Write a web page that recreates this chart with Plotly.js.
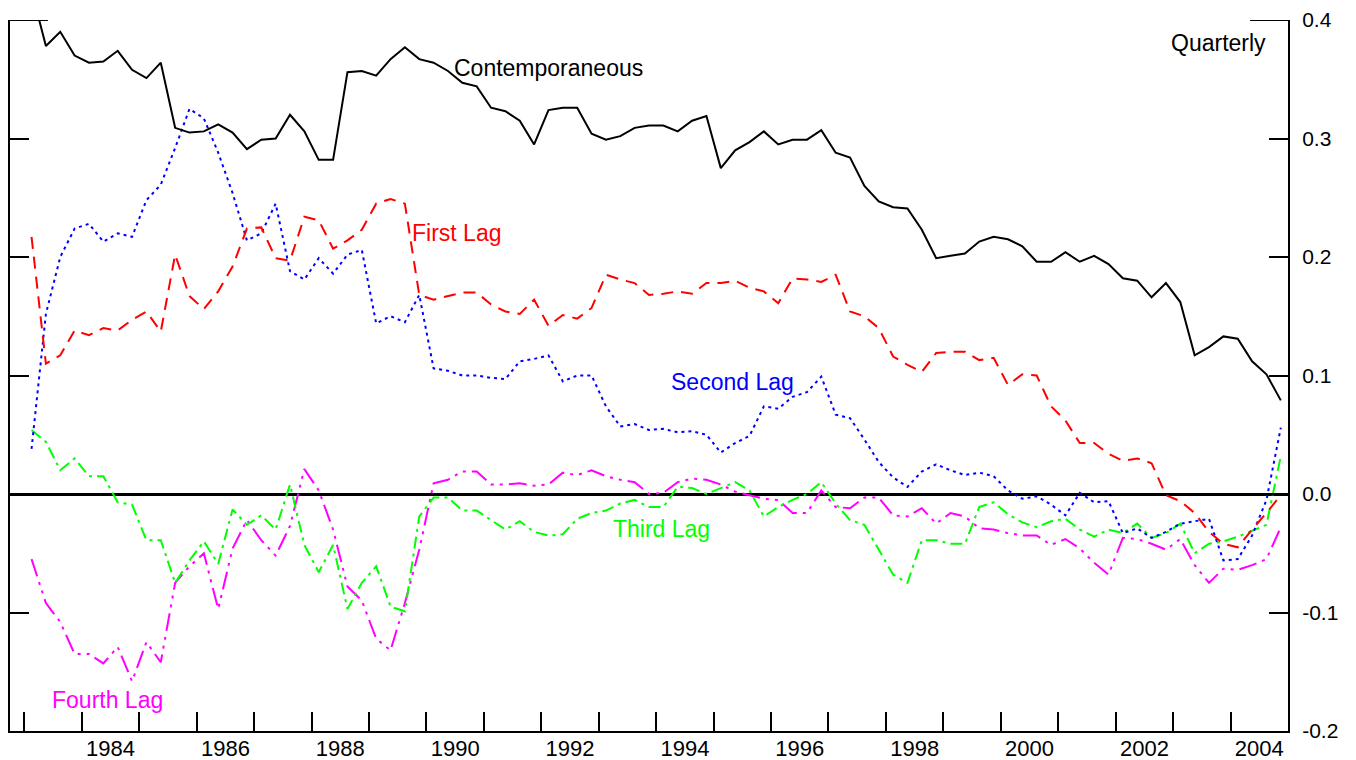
<!DOCTYPE html>
<html>
<head>
<meta charset="utf-8">
<script src="https://cdn.plot.ly/plotly-3.0.1.min.js"></script>
<style>
  html, body { margin: 0; padding: 0; background: #ffffff; }
  #chart { width: 1356px; height: 760px; }
</style>
</head>
<body>
<div id="chart"></div>
<script>
// ---- data (quarterly, 1983Q1 .. 2004Q4) ----
const firstYear = 1983;
const lastYear = 2004;

const contemporaneous = [
  0.425, 0.378, 0.390, 0.370, 0.364, 0.365, 0.374, 0.358, 0.351, 0.364,
  0.309, 0.305, 0.306, 0.312, 0.305, 0.291, 0.299, 0.300, 0.320, 0.306,
  0.282, 0.282, 0.356, 0.357, 0.353, 0.367, 0.377, 0.367, 0.364, 0.357,
  0.347, 0.344, 0.326, 0.323, 0.315, 0.295, 0.324, 0.326, 0.326, 0.304,
  0.299, 0.302, 0.309, 0.311, 0.311, 0.306, 0.315, 0.319, 0.275, 0.290,
  0.297, 0.306, 0.295, 0.299, 0.299, 0.307, 0.288, 0.284, 0.260, 0.247,
  0.242, 0.241, 0.223, 0.199, 0.201, 0.203, 0.213, 0.217, 0.215, 0.209,
  0.196, 0.196, 0.204, 0.196, 0.201, 0.194, 0.182, 0.180, 0.166, 0.178,
  0.162, 0.117, 0.124, 0.133, 0.131, 0.112, 0.101, 0.079
];

const firstLag = [
  0.217, 0.110, 0.117, 0.138, 0.134, 0.140, 0.138, 0.147, 0.154, 0.137,
  0.202, 0.167, 0.156, 0.171, 0.192, 0.224, 0.225, 0.199, 0.197, 0.234,
  0.231, 0.207, 0.214, 0.223, 0.245, 0.249, 0.245, 0.168, 0.164, 0.167,
  0.170, 0.170, 0.160, 0.154, 0.152, 0.164, 0.142, 0.151, 0.148, 0.157,
  0.185, 0.181, 0.178, 0.168, 0.169, 0.171, 0.169, 0.178, 0.178, 0.180,
  0.174, 0.171, 0.161, 0.182, 0.181, 0.179, 0.185, 0.154, 0.150, 0.140,
  0.116, 0.109, 0.103, 0.119, 0.120, 0.120, 0.113, 0.115, 0.092, 0.101,
  0.100, 0.074, 0.062, 0.043, 0.043, 0.034, 0.028, 0.030, 0.026, -0.001,
  -0.006, -0.016, -0.032, -0.042, -0.045, -0.030, -0.016, -0.001
];

const secondLag = [
  0.038, 0.152, 0.200, 0.224, 0.228, 0.213, 0.220, 0.217, 0.248, 0.261,
  0.292, 0.325, 0.317, 0.288, 0.254, 0.214, 0.220, 0.245, 0.188, 0.181,
  0.199, 0.186, 0.202, 0.206, 0.144, 0.150, 0.145, 0.168, 0.106, 0.104,
  0.100, 0.100, 0.098, 0.097, 0.112, 0.114, 0.117, 0.095, 0.100, 0.100,
  0.074, 0.057, 0.059, 0.054, 0.055, 0.052, 0.053, 0.050, 0.035, 0.043,
  0.049, 0.074, 0.072, 0.082, 0.086, 0.099, 0.067, 0.064, 0.046, 0.027,
  0.014, 0.006, 0.019, 0.025, 0.020, 0.016, 0.018, 0.015, 0.003, -0.004,
  -0.002, -0.009, -0.018, 0.001, -0.007, -0.006, -0.033, -0.029, -0.037, -0.032,
  -0.025, -0.023, -0.021, -0.056, -0.055, -0.035, -0.005, 0.056
];

const thirdLag = [
  0.054, 0.044, 0.020, 0.030, 0.015, 0.015, -0.007, -0.009, -0.039, -0.039,
  -0.075, -0.056, -0.040, -0.059, -0.013, -0.026, -0.018, -0.030, 0.008, -0.043,
  -0.066, -0.043, -0.097, -0.075, -0.061, -0.095, -0.099, -0.019, -0.003, -0.003,
  -0.014, -0.014, -0.022, -0.030, -0.023, -0.032, -0.035, -0.034, -0.021, -0.016,
  -0.014, -0.008, -0.005, -0.011, -0.011, 0.006, 0.005, 0.000, 0.005, 0.010,
  0.003, -0.019, -0.011, -0.005, 0.000, 0.010, -0.008, -0.022, -0.026, -0.047,
  -0.068, -0.075, -0.039, -0.039, -0.042, -0.042, -0.011, -0.007, -0.017, -0.024,
  -0.028, -0.023, -0.021, -0.030, -0.036, -0.030, -0.033, -0.025, -0.037, -0.033,
  -0.025, -0.050, -0.042, -0.040, -0.036, -0.031, -0.026, 0.032
];

const fourthLag = [
  -0.055, -0.092, -0.108, -0.135, -0.135, -0.143, -0.129, -0.158, -0.125, -0.142,
  -0.075, -0.061, -0.050, -0.097, -0.046, -0.022, -0.039, -0.052, -0.027, 0.021,
  0.003, -0.030, -0.078, -0.090, -0.122, -0.132, -0.092, -0.047, 0.009, 0.012,
  0.019, 0.019, 0.008, 0.008, 0.009, 0.007, 0.008, 0.018, 0.016, 0.020,
  0.015, 0.012, 0.010, 0.000, 0.001, 0.010, 0.013, 0.012, 0.008, 0.002,
  -0.001, -0.004, -0.005, -0.016, -0.016, 0.003, -0.011, -0.012, -0.003, -0.003,
  -0.018, -0.019, -0.012, -0.025, -0.016, -0.019, -0.029, -0.030, -0.033, -0.035,
  -0.035, -0.043, -0.038, -0.046, -0.058, -0.068, -0.037, -0.038, -0.042, -0.047,
  -0.038, -0.060, -0.075, -0.063, -0.064, -0.060, -0.055, -0.028
];

const yearLabels = ['1984','1986','1988','1990','1992','1994','1996','1998','2000','2002','2004'];
const yTickValues = [-0.2, -0.1, 0.0, 0.1, 0.2, 0.3, 0.4];
const yTickLabels = ['-0.2','-0.1','0.0','0.1','0.2','0.3','0.4'];

// quarter positions (mid-quarter, in fractional years)
const quarters = [];
for (let yr = firstYear; yr <= lastYear; yr++) {
  for (let q = 1; q <= 4; q++) quarters.push(yr + (q - 0.5) / 4);
}
const yearTicks = [];
for (let yr = firstYear; yr <= lastYear; yr++) yearTicks.push(yr);
const labelPositions = yearLabels.map(s => Number(s) + 0.5);

const FONT = '"Liberation Sans", Arial, Helvetica, sans-serif';

function series(y, color, dash, name) {
  return {
    type: 'scatter', mode: 'lines', x: quarters, y: y, name: name,
    line: { color: color, width: 2, dash: dash },
    hoverinfo: 'skip', showlegend: false
  };
}

const traces = [
  series(fourthLag, '#ff00ff', '18px,6px,3px,6px,3px,6px', 'Fourth Lag'),
  series(thirdLag, '#00ff00', '12px,5px,3px,5px', 'Third Lag'),
  series(secondLag, '#0000ff', '3px,4px', 'Second Lag'),
  series(firstLag, '#ff0000', '12px,8px', 'First Lag'),
  series(contemporaneous, '#000000', 'solid', 'Contemporaneous'),
  { type: 'scatter', mode: 'lines', x: [], y: [], xaxis: 'x2', yaxis: 'y', showlegend: false, hoverinfo: 'skip' }
];

const xRange = [1982.75, 2005.0];

const layout = {
  width: 1356, height: 760,
  margin: { l: 10, r: 68, t: 20, b: 29, pad: 0 },
  paper_bgcolor: '#ffffff', plot_bgcolor: '#ffffff',
  font: { family: FONT, size: 22, color: '#000000' },
  showlegend: false,
  xaxis: {
    range: xRange, tickmode: 'array', tickvals: yearTicks, showticklabels: false,
    ticks: 'inside', ticklen: 19, tickwidth: 2, tickcolor: '#000',
    showline: true, linewidth: 2, linecolor: '#000', mirror: false,
    showgrid: false, zeroline: false, fixedrange: true
  },
  xaxis2: {
    overlaying: 'x', anchor: 'y', side: 'bottom', range: xRange,
    tickmode: 'array', tickvals: labelPositions, ticktext: yearLabels,
    ticks: '', showline: false, showgrid: false, zeroline: false,
    ticklabelstandoff: 2,
    tickfont: { family: FONT, size: 22, color: '#000' }, fixedrange: true
  },
  yaxis: {
    range: [-0.2, 0.4], side: 'right',
    tickmode: 'array', tickvals: yTickValues, ticktext: yTickLabels,
    ticks: 'inside', ticklen: 19, tickwidth: 2, tickcolor: '#000',
    showline: true, linewidth: 2, linecolor: '#000', mirror: 'ticks',
    showgrid: false, zeroline: true, zerolinewidth: 3, zerolinecolor: '#000',
    ticklabelstandoff: 8,
    tickfont: { family: FONT, size: 21, color: '#000' }, fixedrange: true
  },
  shapes: [
    { type: 'line', xref: 'paper', yref: 'y', x0: 0, x1: 0.0297, y0: 0.4, y1: 0.4, line: { color: '#000', width: 2 } },
    { type: 'line', xref: 'paper', yref: 'y', x0: 0.9703, x1: 1, y0: 0.4, y1: 0.4, line: { color: '#000', width: 2 } }
  ],
  annotations: [
    { text: 'Contemporaneous', x: 1992.13, y: 0.3595, xanchor: 'center', yanchor: 'middle', showarrow: false, font: { size: 23, color: '#000000' } },
    { text: 'Quarterly', x: 2004.65, y: 0.3806, xanchor: 'right', yanchor: 'middle', showarrow: false, font: { size: 23, color: '#000000' } },
    { text: 'First Lag', x: 1990.53, y: 0.2203, xanchor: 'center', yanchor: 'middle', showarrow: false, font: { size: 23, color: '#ff0000' } },
    { text: 'Second Lag', x: 1995.32, y: 0.0948, xanchor: 'center', yanchor: 'middle', showarrow: false, font: { size: 23, color: '#0000ff' } },
    { text: 'Third Lag', x: 1994.09, y: -0.0295, xanchor: 'center', yanchor: 'middle', showarrow: false, font: { size: 23, color: '#00ff00' } },
    { text: 'Fourth Lag', x: 1984.45, y: -0.1738, xanchor: 'center', yanchor: 'middle', showarrow: false, font: { size: 23, color: '#ff00ff' } }
  ]
};

Plotly.newPlot('chart', traces, layout, { staticPlot: true, displayModeBar: false });
</script>
</body>
</html>
